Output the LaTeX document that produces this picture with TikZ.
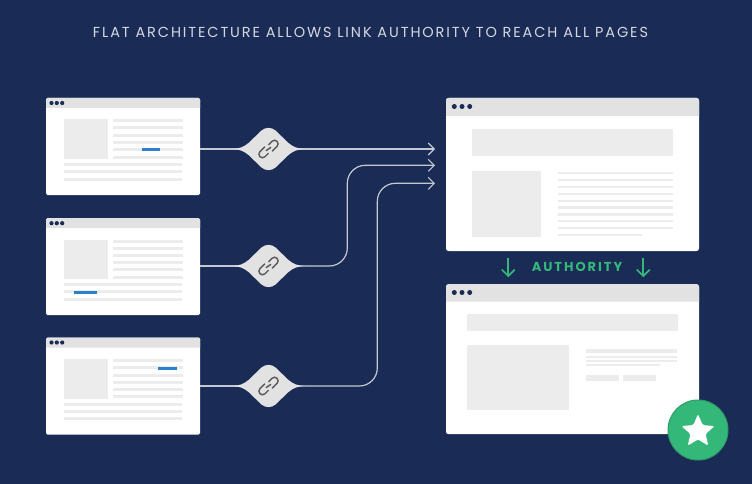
\documentclass[tikz,border=0pt]{standalone}
\usepackage{fontspec}
\usetikzlibrary{arrows.meta,shapes.geometric}
\newfontfamily\titlefont[LetterSpace=13]{Poppins}
\newfontfamily\greenfont[LetterSpace=15]{Poppins}
\definecolor{navy}{HTML}{1A2B55}
\definecolor{bargrey}{HTML}{E2E2E2}
\definecolor{blockgrey}{HTML}{ECECEC}
\definecolor{linkblue}{HTML}{2A80CC}
\definecolor{wirecol}{HTML}{C4C8D2}
\definecolor{authgreen}{HTML}{34B87A}
\definecolor{titlecol}{HTML}{D3D7E0}
\begin{document}
\begin{tikzpicture}[
  x=1pt,y=-1pt,
  srcbox/.style={fill=white,rounded corners=1.5pt,inner sep=0pt,minimum width=154pt,minimum height=97pt},
  bigbox/.style={fill=white,rounded corners=2.5pt,inner sep=0pt,minimum width=253pt},
  wire/.style={draw=wirecol,line width=1.2pt,-{Straight Barb[length=6pt,width=12pt,line width=1.1pt]}},
  stub/.style={draw=wirecol,line width=1.2pt},
  greenarrow/.style={draw=authgreen,line width=1.7pt,-{Straight Barb[length=6.5pt,width=13pt,line width=1.7pt]}},
  hub/.style={circle,inner sep=0pt,minimum size=40pt},
  bar/.style={fill=bargrey},
  block/.style={fill=blockgrey},
  bluemark/.style={fill=linkblue},
  dot/.style={fill=navy},
  badge/.pic={
    \fill[bargrey]
      (-36,0)
      .. controls (-28,-0.6) and (-25,-2) .. (-20,-6)
      -- (-7,-18.5)
      .. controls (-3,-22) and (3,-22) .. (7,-18.5)
      -- (20,-6)
      .. controls (25,-2) and (28,-0.6) .. (36,0)
      .. controls (28,0.6) and (25,2) .. (20,6)
      -- (7,18.5)
      .. controls (3,22) and (-3,22) .. (-7,18.5)
      -- (-20,6)
      .. controls (-25,2) and (-28,0.6) .. (-36,0)
      -- cycle;
    \begin{scope}[rotate=45,line width=1.4pt,rounded corners=3.6pt]
      \draw[black!65] (-1,-4.2) -- (-11.5,-4.2) -- (-11.5,3) -- (-3,3);
      \draw[black!65] (1,4.2) -- (11.5,4.2) -- (11.5,-3) -- (3,-3);
      \draw[black!65] (-3,-0.6) -- (3,0.6);
    \end{scope}
  }
]
  \useasboundingbox (0,0) rectangle (752,484);
  \fill[navy] (0,0) rectangle (752,484);
  \node[font=\titlefont\fontsize{14.5}{17}\selectfont,text=titlecol] (heading) at (370.5,32) {FLAT ARCHITECTURE ALLOWS LINK AUTHORITY TO REACH ALL PAGES};

  \node[srcbox] (src1) at (123,146.5) {};
  \node[srcbox] (src2) at (123,266.7) {};
  \node[srcbox] (src3) at (123,386) {};
  \node[bigbox,minimum height=153pt] (target) at (572.5,174.5) {};
  \node[bigbox,minimum height=150pt] (ranked) at (572.5,359.2) {};

  \foreach \yo in {98,218.2,337.5} {
    \begin{scope}[shift={(0,\yo)}]
      \fill[bar] (46,10) [rounded corners=1.5pt] -- (46,0) -- (200,0) [sharp corners] -- (200,10) -- cycle;
      \foreach \xc in {51.5,56.8,62.2} \fill[dot] (\xc,5) circle (2.1pt);
      \fill[block] (64,21.5) rectangle (107.5,61);
      \foreach \yc in {23,30,37.5,44.5,51.5,59} \fill[block] (113,\yc-1.5) rectangle (183,\yc+1.5);
      \foreach \yc in {66.5,73.5,81} \fill[block] (64,\yc-1.5) rectangle (182,\yc+1.5);
    \end{scope}
  }
  \fill[bluemark] (141.7,148.4) rectangle (159.7,151.2);
  \fill[bluemark] (74.3,290.8) rectangle (97,293.8);
  \fill[bluemark] (158.3,367.2) rectangle (177,370.2);

  \fill[bar] (446,116) [rounded corners=2.5pt] -- (446,98) -- (699,98) [sharp corners] -- (699,116) -- cycle;
  \foreach \xc in {454.3,462,469.7} \fill[dot] (\xc,106.5) circle (2.5pt);
  \fill[block] (471.7,129.3) rectangle (672.7,156);
  \fill[block] (471.7,170.7) rectangle (540.7,236.7);
  \foreach \yc in {173,180,187,193.7,200.7,207.3,214.3,221,228} \fill[block] (557.7,\yc-1.2) rectangle (672.7,\yc+1.2);
  \fill[block] (557.7,233.8) rectangle (641.7,236.2);

  \fill[bar] (446,301.7) [rounded corners=2.5pt] -- (446,284.2) -- (699,284.2) [sharp corners] -- (699,301.7) -- cycle;
  \foreach \xc in {454.3,462,469.7} \fill[dot] (\xc,292.5) circle (2.5pt);
  \fill[block] (466.7,313.7) rectangle (678,331);
  \fill[block] (466.7,345) rectangle (569.3,410);
  \fill[block] (586,348.7) rectangle (677.3,353.3);
  \fill[block] (586,356) rectangle (677.3,358);
  \fill[block] (586,360) rectangle (677.3,362);
  \fill[block] (586,364.3) rectangle (660,366.3);
  \fill[block] (586,375) rectangle (619,380.7);
  \fill[block] (623.3,375) rectangle (656,380.7);

  \node[hub] (link1) at (268.5,149) {};
  \node[hub] (link2) at (268.5,266) {};
  \node[hub] (link3) at (268.5,386) {};
  \coordinate (in1) at (435,149);
  \coordinate (in2) at (435,165.3);
  \coordinate (in3) at (435,183.3);
  \coordinate (bend2) at (347.3,165.3);
  \coordinate (bend3) at (377.3,183.3);

  \draw[stub]
    (src1.east |- link1)
    --
    (link1);
  \draw[wire]
    (link1)
    --
    (in1);
  \draw[stub]
    (src2.east |- link2)
    --
    (link2);
  \draw[wire,rounded corners=18pt]
    (link2)
    -|
    (bend2)
    --
    (in2);
  \draw[stub]
    (src3.east |- link3)
    --
    (link3);
  \draw[wire,rounded corners=18pt]
    (link3)
    -|
    (bend3)
    --
    (in3);
  \pic at (link1) {badge};
  \pic at (link2) {badge};
  \pic at (link3) {badge};

  \node[font=\greenfont\bfseries\fontsize{13}{15}\selectfont,text=authgreen] (authority) at (577,266.7) {AUTHORITY};
  \coordinate (downa) at (508.3,258);
  \coordinate (downb) at (508.3,277.3);
  \coordinate (downc) at (643.3,258);
  \coordinate (downd) at (643.3,277.3);
  \draw[greenarrow]
    (downa)
    --
    (downb);
  \draw[greenarrow]
    (downc)
    --
    (downd);

  \node[circle,fill=authgreen,draw=authgreen!85!black,line width=1pt,minimum size=60pt,inner sep=0pt] (medal) at (698,430) {};
  \node[star,star points=5,star point ratio=2.2,fill=white,rounded corners=1.5pt,minimum size=35pt,inner sep=0pt] (starmark) at (698,431.5) {};
\end{tikzpicture}
\end{document}
